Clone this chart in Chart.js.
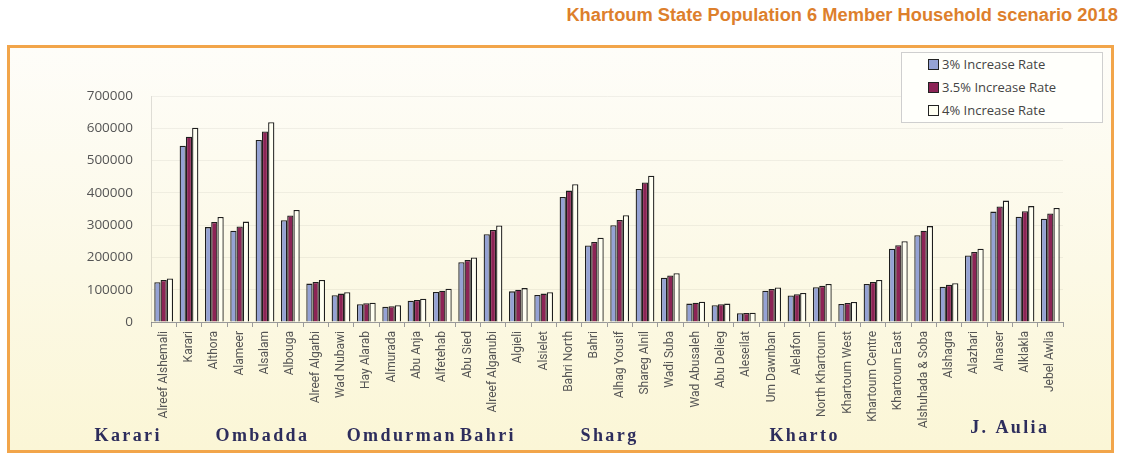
<!DOCTYPE html>
<html>
<head>
<meta charset="utf-8">
<script src="https://cdn.jsdelivr.net/npm/chart.js@4.4.1/dist/chart.umd.min.js"></script>
<style>
  body { margin: 0; width: 1123px; height: 453px; background: #ffffff; position: relative; overflow: hidden; font-family: "Open Sans", sans-serif; }
  #title { position: absolute; right: 5px; top: 4px; font: bold 18.3px "Liberation Sans", Arial, sans-serif; color: #dd7f2c; white-space: nowrap; }
  #frame { position: absolute; left: 7px; top: 45px; width: 1101px; height: 402px; border: 3px solid #f2a54a; background: linear-gradient(180deg, #fefdf9 0%, #fcf9e6 55%, #fbf6d6 100%); }
  #wrap { position: absolute; left: 0; top: 0; width: 1123px; height: 453px; }
  #legend { position: absolute; left: 901px; top: 52px; width: 200px; height: 69px; border: 1px solid #cfcfcf; background: #fffffb; }
  .item { position: absolute; left: 26px; font: 13px "Open Sans", sans-serif; color: #444; white-space: nowrap; }
  .box { display: inline-block; width: 9px; height: 9px; border: 1px solid #222; margin-right: 3px; vertical-align: -1px; }
</style>
</head>
<body>
<div id="title">Khartoum State Population 6 Member Household scenario 2018</div>
<div id="frame"></div>
<div id="wrap"><canvas id="chart"></canvas></div>
<div id="legend"></div>
<script>
// 동네 이름
const categories = ['Alreef Alshemali', 'Karari', 'Althora', 'Alameer', 'Alsalam', 'Albouga', 'Alreef Algarbi',
  'Wad Nubawi', 'Hay Alarab', 'Almurada', 'Abu Anja', 'Alfetehab', 'Abu Sied', 'Alreef Alganubi', 'Algieli',
  'Alsielet', 'Bahri North', 'Bahri', 'Alhag Yousif', 'Shareg Alnil', 'Wadi Suba', 'Wad Abusaleh', 'Abu Delieg',
  'Aleseilat', 'Um Dawnban', 'Alelafon', 'North Khartoum', 'Khartoum West', 'Khartoum Centre', 'Khartoum East',
  'Alshuhada & Soba', 'Alshagra', 'Alazhari', 'Alnaser', 'Alklakla', 'Jebel Awlia'];

const seriesLabels = ['3% Increase Rate', '3.5% Increase Rate', '4% Increase Rate'];

const rate3 = [123000, 546000, 294000, 283000, 564000, 315000, 119000, 83000, 55000, 47000, 66000, 93000,
  185000, 272000, 95000, 84000, 387000, 237000, 300000, 412000, 137000, 57000, 52000, 27000,
  97000, 82000, 108000, 56000, 118000, 227000, 269000, 109000, 206000, 342000, 326000, 320000];
const rate35 = [130000, 574000, 310000, 296000, 590000, 330000, 124000, 88000, 58000, 49000, 68000, 97000,
  192000, 285000, 100000, 88000, 407000, 248000, 316000, 432000, 144000, 60000, 55000, 28000,
  102000, 86000, 112000, 59000, 124000, 238000, 283000, 115000, 217000, 358000, 343000, 336000];
const rate4 = [135000, 602000, 325000, 311000, 619000, 347000, 130000, 92000, 60000, 52000, 72000, 103000,
  200000, 299000, 105000, 92000, 427000, 261000, 331000, 453000, 151000, 63000, 57000, 29000,
  107000, 90000, 118000, 62000, 130000, 250000, 297000, 120000, 227000, 376000, 359000, 353000];

const yTicks = [0, 100000, 200000, 300000, 400000, 500000, 600000, 700000];

// 지역 이름 (카테고리 인덱스 기준 위치)
const regionNames = ['Karari', 'Ombadda', 'Omdurman', 'Bahri', 'Sharg', 'Kharto', 'J. Aulia'];
const regionAt = [-1.4, 3.9, 9.4, 12.8, 17.6, 25.3, 33.4];

const colors = ['#95a2d4', '#8c2456', '#fffff2'];

// 지역 이름 그리기 플러그인
const regionPlugin = {
  id: 'regions',
  afterDraw(chart) {
    const ctx = chart.ctx;
    const x = chart.scales.x;
    ctx.save();
    ctx.font = 'bold 18px "Liberation Serif", "Times New Roman", serif';
    ctx.fillStyle = '#2d2d5c';
    ctx.textAlign = 'center';
    ctx.textBaseline = 'middle';
    ctx.letterSpacing = '2.4px';
    regionNames.forEach((name, i) => {
      const y = name === 'J. Aulia' ? 428 : 436;
      ctx.fillText(name, x.getPixelForValue(regionAt[i]), y);
    });
    ctx.restore();
  }
};

const chart = new Chart(document.getElementById('chart'), {
  type: 'bar',
  data: {
    labels: categories,
    datasets: [rate3, rate35, rate4].map((values, i) => ({
      label: seriesLabels[i],
      data: values,
      backgroundColor: colors[i],
      borderColor: '#1e1e1e',
      borderWidth: 1.3,
      categoryPercentage: 0.74,
      barPercentage: 1.0
    }))
  },
  options: {
    responsive: true,
    maintainAspectRatio: false,
    animation: false,
    layout: { padding: { left: 0, top: 96, right: 60, bottom: 0 } },
    plugins: {
      legend: { display: false },
      tooltip: { enabled: false }
    },
    scales: {
      x: {
        afterFit(scale) { scale.height = 131; },
        grid: { drawOnChartArea: false, tickLength: 5, color: '#9a9a9a', offset: true },
        border: { color: '#9a9a9a' },
        ticks: {
          minRotation: 90, maxRotation: 90, autoSkip: false, padding: 4,
          color: '#555',
          font: { family: '"Liberation Sans Narrow", "Roboto", sans-serif', size: 12 }
        }
      },
      y: {
        min: 0,
        max: 700000,
        afterFit(scale) { scale.width = 151; },
        afterBuildTicks(scale) { scale.ticks = yTicks.map(v => ({ value: v })); },
        grid: { color: 'rgba(0,0,0,0.05)', drawTicks: false },
        border: { color: 'rgba(0,0,0,0.12)' },
        ticks: {
          padding: 18,
          color: '#555',
          font: { family: '"Open Sans", sans-serif', size: 13.5 },
          callback: v => String(v)
        }
      }
    }
  },
  plugins: [regionPlugin]
});

// 범례 만들기
const legendBox = document.getElementById('legend');
chart.data.datasets.forEach((ds, i) => {
  const item = document.createElement('div');
  item.className = 'item';
  item.style.top = (2 + i * 23) + 'px';
  item.innerHTML = '<span class="box" style="background:' + ds.backgroundColor + '"></span>' + ds.label;
  legendBox.appendChild(item);
});
</script>
</body>
</html>
